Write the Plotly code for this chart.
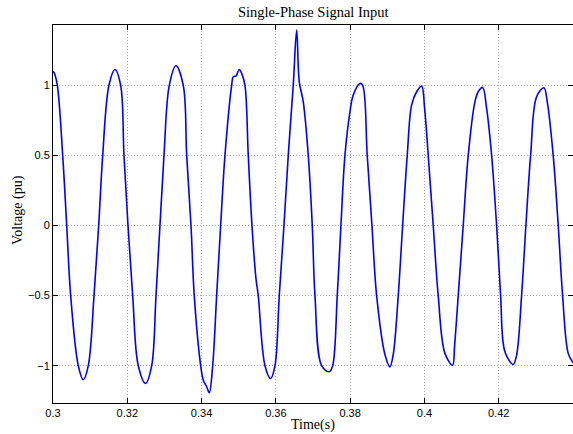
import plotly.graph_objects as go

time_s = [
    0.30000, 0.30030, 0.30116, 0.30261, 0.30369, 0.30476, 0.30681, 0.30816,
    0.30950, 0.31104, 0.31230, 0.31338, 0.31507, 0.31669, 0.31822, 0.31911,
    0.32019, 0.32145, 0.32296, 0.32495, 0.32657, 0.32773, 0.32880, 0.32988,
    0.33131, 0.33311, 0.33507, 0.33599, 0.33715, 0.33803, 0.33976, 0.34046,
    0.34137, 0.34207, 0.34299, 0.34406, 0.34514, 0.34630, 0.34810, 0.34853,
    0.34926, 0.34961, 0.35015, 0.35079, 0.35168, 0.35257, 0.35357, 0.35464,
    0.35526, 0.35707, 0.35860, 0.35976, 0.36092, 0.36218, 0.36334, 0.36468,
    0.36560, 0.36630, 0.36738, 0.36872, 0.36980, 0.37053, 0.37233, 0.37437,
    0.37529, 0.37653, 0.37752, 0.37860, 0.37995, 0.38083, 0.38264, 0.38337,
    0.38460, 0.38587, 0.38713, 0.38937, 0.39071, 0.39160, 0.39295, 0.39413,
    0.39537, 0.39655, 0.39790, 0.39925, 0.40005, 0.40102, 0.40237, 0.40371,
    0.40552, 0.40759, 0.40813, 0.40910, 0.41044, 0.41179, 0.41359, 0.41448,
    0.41567, 0.41674, 0.41809, 0.41943, 0.42051, 0.42167, 0.42390, 0.42482,
    0.42616, 0.42732, 0.42859, 0.43020, 0.43217, 0.43307, 0.43467, 0.43602,
    0.43720, 0.43871, 0.43997,
]

voltage_pu = [
    1.100, 1.090, 1.000, 0.500, 0.000, -0.500, -1.000, -1.100,
    -1.000, -0.500, 0.000, 0.500, 1.000, 1.113, 1.000, 0.500,
    0.000, -0.500, -1.000, -1.126, -1.000, -0.500, 0.000, 0.500,
    1.000, 1.139, 1.000, 0.500, 0.000, -0.500, -1.000, -1.103,
    -1.150, -1.193, -1.000, -0.500, 0.000, 0.500, 1.000, 1.061,
    1.066, 1.085, 1.113, 1.085, 1.000, 0.500, 0.000, -0.377,
    -0.500, -1.000, -1.091, -1.000, -0.500, 0.000, 0.500, 1.000,
    1.394, 1.025, 0.882, 0.500, 0.000, -0.500, -1.000, -1.043,
    -1.000, -0.500, 0.000, 0.500, 0.811, 0.930, 1.013, 1.000,
    0.500, 0.000, -0.500, -0.920, -1.008, -0.920, -0.500, 0.000,
    0.500, 0.859, 0.954, 0.994, 0.835, 0.500, 0.000, -0.500,
    -0.912, -0.996, -0.853, -0.500, 0.000, 0.500, 0.882, 0.954,
    0.985, 0.835, 0.500, 0.000, -0.500, -0.900, -0.991, -0.924,
    -0.500, 0.000, 0.500, 0.918, 0.982, 0.882, 0.500, 0.000,
    -0.500, -0.912, -0.977,
]

x_ticks = [0.30, 0.32, 0.34, 0.36, 0.38, 0.40, 0.42]
x_tick_labels = ["0.3", "0.32", "0.34", "0.36", "0.38", "0.4", "0.42"]
y_ticks = [-1, -0.5, 0, 0.5, 1]
y_tick_labels = ["\u22121", "\u22120.5", "0", "0.5", "1"]

fig = go.Figure()
fig.add_trace(go.Scatter(
    x=time_s, y=voltage_pu, mode="lines",
    line=dict(color="#0000ff", width=1.6, shape="spline", smoothing=1.0),
    showlegend=False, hoverinfo="skip",
))

serif = "Liberation Serif, DejaVu Serif, serif"
sans = "Liberation Sans, Arial, sans-serif"

axis_common = dict(
    showline=True, linecolor="black", linewidth=1, mirror="ticks",
    ticks="inside", ticklen=5, tickcolor="black",
    showgrid=True, gridcolor="#a8a8a8", griddash="1px,2px", gridwidth=1,
    zeroline=False, automargin=False,
    tickfont=dict(family=sans, size=11, color="black"),
)

fig.update_layout(
    width=573, height=434,
    margin=dict(l=53, r=0, t=25, b=31),
    paper_bgcolor="white", plot_bgcolor="white",
    xaxis=dict(range=[0.30, 0.44], tickvals=x_ticks, ticktext=x_tick_labels,
               **axis_common),
    yaxis=dict(range=[-1.266, 1.43], tickvals=y_ticks, ticktext=y_tick_labels,
               **axis_common),
    annotations=[
        dict(text="Single-Phase Signal Input", xref="paper", yref="paper",
             x=0.5, y=1, yshift=13, xanchor="center", yanchor="middle",
             showarrow=False, font=dict(family=serif, size=14.5, color="black")),
        dict(text="Time(s)", xref="paper", yref="paper",
             x=0.5, y=0, yshift=-22, xanchor="center", yanchor="middle",
             showarrow=False, font=dict(family=serif, size=14, color="black")),
        dict(text="Voltage (pu)", xref="paper", yref="paper",
             x=0, xshift=-35, y=0.5, yshift=4, textangle=-90, xanchor="center",
             yanchor="middle", showarrow=False,
             font=dict(family=serif, size=14, color="black")),
    ],
)

fig.write_html("out.html",
               config={"displayModeBar": False},
               post_script="document.body.style.margin='0';"
                           "document.body.style.overflow='hidden';")
